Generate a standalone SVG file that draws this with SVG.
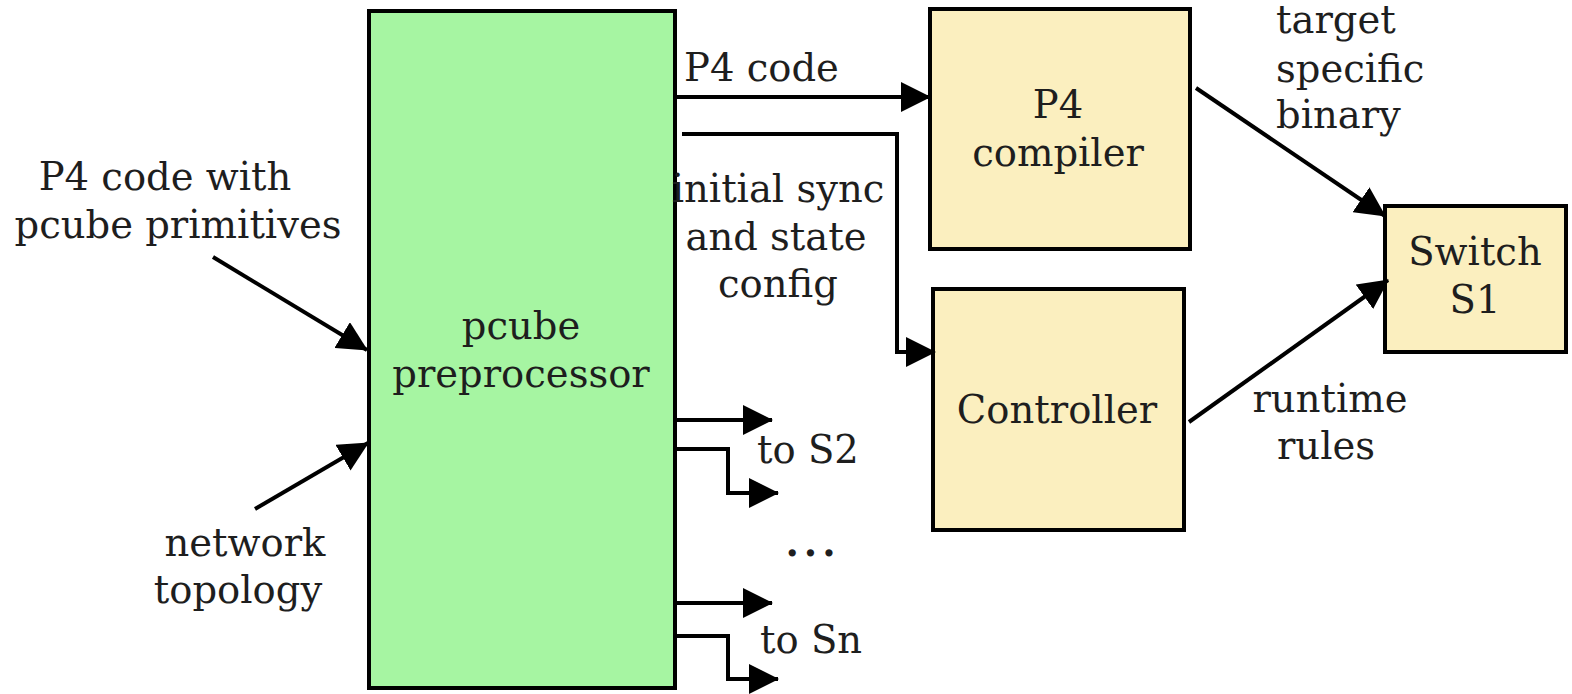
<svg xmlns="http://www.w3.org/2000/svg" width="1572" height="694" viewBox="0 0 1572 694">
<defs>
<style>
text{font-family:"DejaVu Serif","Liberation Serif",serif;font-size:38.5px;fill:#1e1e1e}
.c{text-anchor:middle}
.box{stroke:#000;stroke-width:4}
.g{fill:#a6f5a2}
.y{fill:#fbefbf}
.e{fill:none;stroke:#000;stroke-width:4}
</style>
<marker id="ah" markerUnits="userSpaceOnUse" markerWidth="30" markerHeight="30" viewBox="0 0 30 30" refX="29" refY="15" orient="auto">
<path d="M0,0 L30,15 L0,30 Z" fill="#000"/>
</marker>
</defs>
<rect width="1572" height="694" fill="#fff"/>
<g id="preprocessor">
<rect class="box g" x="369" y="11" width="306" height="677"/>
<text class="c" x="521" y="339">pcube</text>
<text class="c" x="521" y="387">preprocessor</text>
</g>
<g id="compiler">
<rect class="box y" x="930" y="9" width="260" height="240"/>
<text class="c" x="1058" y="118">P4</text>
<text class="c" x="1058" y="166">compiler</text>
</g>
<g id="controller">
<rect class="box y" x="933" y="289" width="251" height="241"/>
<text class="c" x="1057" y="423">Controller</text>
</g>
<g id="switch">
<rect class="box y" x="1385" y="206" width="181" height="146"/>
<text class="c" x="1475" y="265">Switch</text>
<text class="c" x="1475" y="313">S1</text>
</g>
<g id="labels">
<text class="c" x="165" y="190">P4 code with</text>
<text class="c" x="178" y="238">pcube primitives</text>
<text class="c" x="245" y="556">network</text>
<text class="c" x="238" y="603">topology</text>
<text x="684" y="81">P4 code</text>
<text class="c" x="778" y="202">initial sync</text>
<text class="c" x="776" y="250">and state</text>
<text class="c" x="778" y="297">config</text>
<text x="757" y="463">to S2</text>
<text x="760" y="653">to Sn</text>
<text class="c" x="813" y="556" letter-spacing="5" font-weight="bold">...</text>
<text x="1276" y="33">target</text>
<text x="1276" y="82">specific</text>
<text x="1276" y="128">binary</text>
<text class="c" x="1330" y="412">runtime</text>
<text class="c" x="1326" y="459">rules</text>
</g>
<g id="connectors">
<path class="e" d="M675,97 H930" marker-end="url(#ah)"/>
<path class="e" d="M682,134 H897 V352 H935" marker-end="url(#ah)"/>
<path class="e" d="M675,420 H772" marker-end="url(#ah)"/>
<path class="e" d="M675,449 H728 V493 H778" marker-end="url(#ah)"/>
<path class="e" d="M675,603 H772" marker-end="url(#ah)"/>
<path class="e" d="M675,636 H728 V679 H778" marker-end="url(#ah)"/>
<path class="e" d="M213,257 L367,350" marker-end="url(#ah)"/>
<path class="e" d="M255,509 L368,443" marker-end="url(#ah)"/>
<path class="e" d="M1196,88 L1385,216" marker-end="url(#ah)"/>
<path class="e" d="M1189,422 L1388,280" marker-end="url(#ah)"/>
</g>
</svg>
